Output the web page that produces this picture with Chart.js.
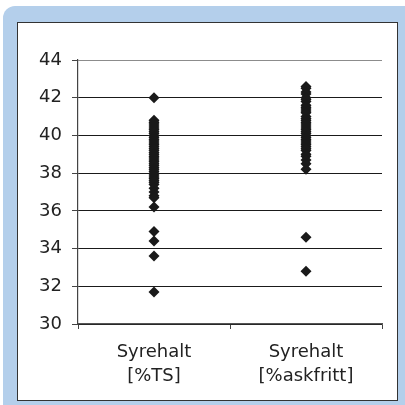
<!DOCTYPE html>
<html>
<head>
<meta charset="utf-8">
<script src="https://cdn.jsdelivr.net/npm/chart.js@4/dist/chart.umd.min.js"></script>
<style>
  html, body { margin: 0; padding: 0; background: #fff; }
  #wrap { position: relative; width: 405px; height: 405px; overflow: hidden; }
  #frame {
    position: absolute; left: 3px; top: 6px; width: 414px; height: 412px;
    background: #b4cfeb; border-radius: 12px;
  }
  #panel {
    position: absolute; left: 17px; top: 22px; width: 379px; height: 377px;
    background: #fff; border: 1.5px solid #333;
  }
  #chart { position: absolute; left: 0; top: 0; }
</style>
</head>
<body>
<div id="wrap">
  <div id="frame"></div>
  <div id="panel"></div>
  <canvas id="chart" width="405" height="405"></canvas>
</div>
<script>
const CATEGORIES = [["Syrehalt", "[%TS]"], ["Syrehalt", "[%askfritt]"]];
const Y_TICKS = [30, 32, 34, 36, 38, 40, 42, 44];

// Syrehalt [%TS]
const OXYGEN_TS = [
  42.0, 40.8, 40.7, 40.6, 40.5, 40.4, 40.3, 40.2, 40.1, 40.0,
  39.9, 39.8, 39.7, 39.6, 39.5, 39.4, 39.3, 39.2, 39.1, 39.0,
  38.9, 38.8, 38.7, 38.6, 38.5, 38.4, 38.3, 38.2, 38.1, 38.0,
  37.9, 37.8, 37.7, 37.6, 37.5, 37.4, 37.2, 37.0, 36.8, 36.7,
  36.2, 34.9, 34.4, 33.6, 31.7,
];

// Syrehalt [%askfritt]
const OXYGEN_ASHFREE = [
  42.6, 42.5, 42.3, 42.2, 42.0, 41.9, 41.8, 41.6, 41.5, 41.4,
  41.3, 41.2, 41.0, 40.9, 40.8, 40.7, 40.6, 40.5, 40.4, 40.3,
  40.2, 40.1, 40.0, 39.9, 39.8, 39.7, 39.6, 39.5, 39.4, 39.3,
  39.2, 39.0, 38.9, 38.7, 38.5, 38.2, 34.6, 32.8,
];

const MARK = "#1a1a1a";
const FONT = { family: "'DejaVu Sans', sans-serif", size: 18 };

// x uses the label itself (same array reference) so the category scale finds it
function pointsFor(category, values) {
  return values.map(v => ({ x: category, y: v }));
}

const dataset = (data) => ({
  data,
  showLine: false,
  pointStyle: "rectRot",
  pointRadius: 5.5,
  pointHoverRadius: 5.5,
  pointBackgroundColor: MARK,
  pointBorderColor: MARK,
  pointBorderWidth: 0,
});

new Chart(document.getElementById("chart"), {
  type: "line",
  data: {
    labels: CATEGORIES,
    datasets: [
      dataset(pointsFor(CATEGORIES[0], OXYGEN_TS)),
      dataset(pointsFor(CATEGORIES[1], OXYGEN_ASHFREE)),
    ],
  },
  options: {
    responsive: false,
    animation: false,
    layout: { padding: { left: 0, top: 60, right: 23, bottom: 0 } },
    plugins: { legend: { display: false }, tooltip: { enabled: false } },
    scales: {
      x: {
        type: "category",
        offset: true,
        afterFit(scale) { scale.height = 81; },
        grid: {
          offset: true,
          drawOnChartArea: true,
          color: ctx => ctx.index === CATEGORIES.length ? "#8c8c8c" : "rgba(0,0,0,0)",
          tickColor: "#444",
          tickLength: 5,
          lineWidth: 1,
        },
        border: { color: "#555", width: 1.2 },
        ticks: { color: "#222", font: { ...FONT, lineHeight: 1.3 }, padding: 12, maxRotation: 0 },
      },
      y: {
        min: 30,
        max: 44,
        afterFit(scale) { scale.width = 78; },
        afterBuildTicks(scale) { scale.ticks = Y_TICKS.map(v => ({ value: v })); },
        grid: {
          color: ctx => ctx.tick && ctx.tick.value === 44 ? "#8c8c8c" : "#1a1a1a",
          tickColor: "#444",
          tickLength: 6,
          lineWidth: 1,
        },
        border: { color: "#444", width: 1.2 },
        ticks: { color: "#222", font: FONT, padding: 10 },
      },
    },
  },
});
</script>
</body>
</html>
